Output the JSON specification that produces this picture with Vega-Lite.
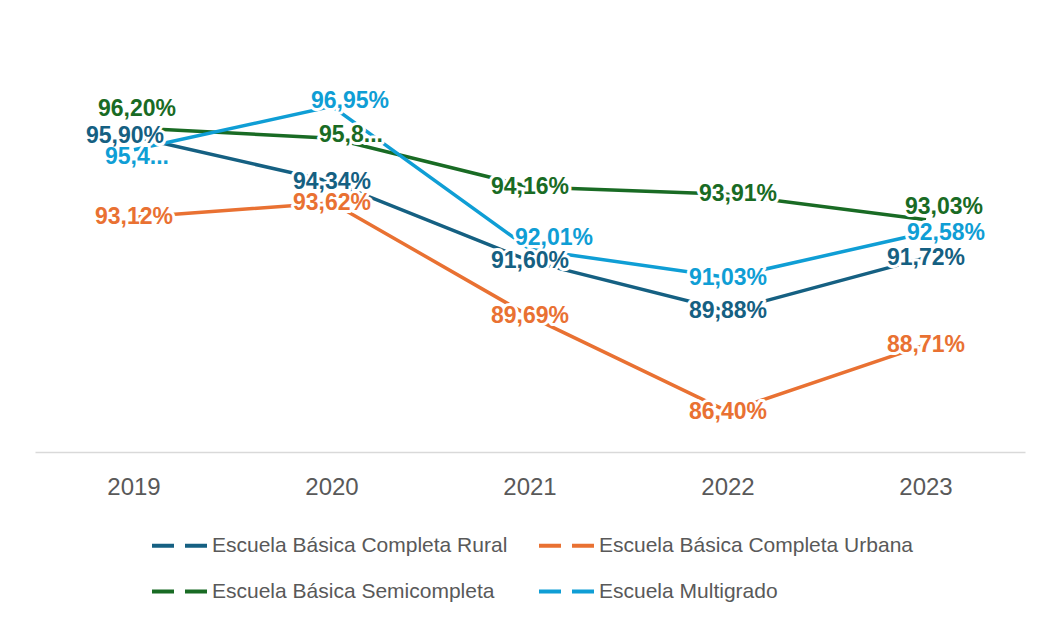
{
  "$schema": "https://vega.github.io/schema/vega-lite/v6.json",
  "width": 990,
  "height": 376,
  "padding": {"left": 35, "top": 76, "right": 16, "bottom": 10},
  "background": "white",
  "config": {
    "view": {"stroke": null},
    "font": "Liberation Sans"
  },
  "data": {
    "values": [
      {"year": "2019", "serie": "Escuela Básica Completa Rural", "value": 95.90, "label": "95,90%"},
      {"year": "2020", "serie": "Escuela Básica Completa Rural", "value": 94.34, "label": "94,34%"},
      {"year": "2021", "serie": "Escuela Básica Completa Rural", "value": 91.60, "label": "91,60%"},
      {"year": "2022", "serie": "Escuela Básica Completa Rural", "value": 89.88, "label": "89,88%"},
      {"year": "2023", "serie": "Escuela Básica Completa Rural", "value": 91.72, "label": "91,72%"},
      {"year": "2019", "serie": "Escuela Básica Completa Urbana", "value": 93.12, "label": "93,12%"},
      {"year": "2020", "serie": "Escuela Básica Completa Urbana", "value": 93.62, "label": "93,62%"},
      {"year": "2021", "serie": "Escuela Básica Completa Urbana", "value": 89.69, "label": "89,69%"},
      {"year": "2022", "serie": "Escuela Básica Completa Urbana", "value": 86.40, "label": "86,40%"},
      {"year": "2023", "serie": "Escuela Básica Completa Urbana", "value": 88.71, "label": "88,71%"},
      {"year": "2019", "serie": "Escuela Básica Semicompleta", "value": 96.20, "label": "96,20%"},
      {"year": "2020", "serie": "Escuela Básica Semicompleta", "value": 95.85, "label": "95,8..."},
      {"year": "2021", "serie": "Escuela Básica Semicompleta", "value": 94.16, "label": "94,16%"},
      {"year": "2022", "serie": "Escuela Básica Semicompleta", "value": 93.91, "label": "93,91%"},
      {"year": "2023", "serie": "Escuela Básica Semicompleta", "value": 93.03, "label": "93,03%"},
      {"year": "2019", "serie": "Escuela Multigrado", "value": 95.45, "label": "95,4..."},
      {"year": "2020", "serie": "Escuela Multigrado", "value": 96.95, "label": "96,95%"},
      {"year": "2021", "serie": "Escuela Multigrado", "value": 92.01, "label": "92,01%"},
      {"year": "2022", "serie": "Escuela Multigrado", "value": 91.03, "label": "91,03%"},
      {"year": "2023", "serie": "Escuela Multigrado", "value": 92.58, "label": "92,58%"}
    ]
  },
  "encoding": {
    "x": {
      "field": "year", "type": "nominal",
      "scale": {"type": "band", "paddingInner": 0, "paddingOuter": 0},
      "axis": {
        "title": null, "labelAngle": 0, "ticks": false,
        "domainColor": "#d9d9d9", "domainWidth": 1.5,
        "labelFontSize": 24, "labelColor": "#595959", "labelPadding": 23,
        "labelFont": "Liberation Sans"
      }
    },
    "y": {
      "field": "value", "type": "quantitative",
      "scale": {"domain": [85, 98], "zero": false, "nice": false},
      "axis": null
    },
    "color": {
      "field": "serie", "type": "nominal",
      "scale": {
        "domain": ["Escuela Básica Completa Rural", "Escuela Básica Completa Urbana", "Escuela Básica Semicompleta", "Escuela Multigrado"],
        "range": ["#156082", "#E97132", "#196B24", "#0F9ED5"]
      },
      "legend": {
        "title": null, "orient": "none", "legendX": 115, "legendY": 440,
        "direction": "horizontal",
        "columns": 2, "columnPadding": 23, "rowPadding": 6,
        "symbolType": "stroke", "symbolSize": 3025, "symbolStrokeWidth": 4,
        "symbolDash": [22, 11], "labelFontSize": 21, "labelColor": "#595959",
        "labelOffset": 3, "labelLimit": 500, "labelFont": "Liberation Sans"
      }
    },
    "text": {"field": "label"}
  },
  "layer": [
    {"mark": {"type": "line", "strokeWidth": 3.5}, "encoding": {"text": null}},

    {"transform": [{"filter": "!((datum.serie == 'Escuela Básica Semicompleta' && (datum.year == '2019' || datum.year == '2020' || datum.year == '2022' || datum.year == '2023')) || (datum.serie == 'Escuela Multigrado' && datum.year != '2022') || (datum.serie == 'Escuela Básica Completa Rural' && datum.year == '2019'))"}],
     "mark": {"type": "text", "fontSize": 23, "fontWeight": "bold", "stroke": "white", "strokeWidth": 6, "strokeJoin": "round", "fill": "white"}},
    {"transform": [{"filter": "datum.serie == 'Escuela Básica Completa Rural' && datum.year == '2019'"}],
     "mark": {"type": "text", "fontSize": 23, "fontWeight": "bold", "dx": -9, "dy": -1, "stroke": "white", "strokeWidth": 6, "strokeJoin": "round", "fill": "white"}},
    {"transform": [{"filter": "datum.serie == 'Escuela Básica Semicompleta' && datum.year == '2019'"}],
     "mark": {"type": "text", "fontSize": 23, "fontWeight": "bold", "dx": 3, "dy": -19, "stroke": "white", "strokeWidth": 6, "strokeJoin": "round", "fill": "white"}},
    {"transform": [{"filter": "datum.serie == 'Escuela Multigrado' && datum.year == '2019'"}],
     "mark": {"type": "text", "fontSize": 23, "fontWeight": "bold", "dx": 3, "dy": 7, "stroke": "white", "strokeWidth": 6, "strokeJoin": "round", "fill": "white"}},
    {"transform": [{"filter": "datum.serie == 'Escuela Básica Semicompleta' && datum.year == '2020'"}],
     "mark": {"type": "text", "fontSize": 23, "fontWeight": "bold", "dx": 19, "dy": -3, "stroke": "white", "strokeWidth": 6, "strokeJoin": "round", "fill": "white"}},
    {"transform": [{"filter": "datum.serie == 'Escuela Multigrado' && datum.year == '2020'"}],
     "mark": {"type": "text", "fontSize": 23, "fontWeight": "bold", "dx": 18, "dy": -5, "stroke": "white", "strokeWidth": 6, "strokeJoin": "round", "fill": "white"}},
    {"transform": [{"filter": "datum.serie == 'Escuela Multigrado' && datum.year == '2021'"}],
     "mark": {"type": "text", "fontSize": 23, "fontWeight": "bold", "dx": 24, "dy": -11, "stroke": "white", "strokeWidth": 6, "strokeJoin": "round", "fill": "white"}},
    {"transform": [{"filter": "datum.serie == 'Escuela Básica Semicompleta' && datum.year == '2022'"}],
     "mark": {"type": "text", "fontSize": 23, "fontWeight": "bold", "dx": 10, "dy": 0, "stroke": "white", "strokeWidth": 6, "strokeJoin": "round", "fill": "white"}},
    {"transform": [{"filter": "datum.serie == 'Escuela Básica Semicompleta' && datum.year == '2023'"}],
     "mark": {"type": "text", "fontSize": 23, "fontWeight": "bold", "dx": 18, "dy": -13, "stroke": "white", "strokeWidth": 6, "strokeJoin": "round", "fill": "white"}},
    {"transform": [{"filter": "datum.serie == 'Escuela Multigrado' && datum.year == '2023'"}],
     "mark": {"type": "text", "fontSize": 23, "fontWeight": "bold", "dx": 20, "dy": 0, "stroke": "white", "strokeWidth": 6, "strokeJoin": "round", "fill": "white"}},

    {"transform": [{"filter": "!((datum.serie == 'Escuela Básica Semicompleta' && (datum.year == '2019' || datum.year == '2020' || datum.year == '2022' || datum.year == '2023')) || (datum.serie == 'Escuela Multigrado' && datum.year != '2022') || (datum.serie == 'Escuela Básica Completa Rural' && datum.year == '2019'))"}],
     "mark": {"type": "text", "fontSize": 23, "fontWeight": "bold"}},
    {"transform": [{"filter": "datum.serie == 'Escuela Básica Completa Rural' && datum.year == '2019'"}],
     "mark": {"type": "text", "fontSize": 23, "fontWeight": "bold", "dx": -9, "dy": -1}},
    {"transform": [{"filter": "datum.serie == 'Escuela Básica Semicompleta' && datum.year == '2019'"}],
     "mark": {"type": "text", "fontSize": 23, "fontWeight": "bold", "dx": 3, "dy": -19}},
    {"transform": [{"filter": "datum.serie == 'Escuela Multigrado' && datum.year == '2019'"}],
     "mark": {"type": "text", "fontSize": 23, "fontWeight": "bold", "dx": 3, "dy": 7}},
    {"transform": [{"filter": "datum.serie == 'Escuela Básica Semicompleta' && datum.year == '2020'"}],
     "mark": {"type": "text", "fontSize": 23, "fontWeight": "bold", "dx": 19, "dy": -3}},
    {"transform": [{"filter": "datum.serie == 'Escuela Multigrado' && datum.year == '2020'"}],
     "mark": {"type": "text", "fontSize": 23, "fontWeight": "bold", "dx": 18, "dy": -5}},
    {"transform": [{"filter": "datum.serie == 'Escuela Multigrado' && datum.year == '2021'"}],
     "mark": {"type": "text", "fontSize": 23, "fontWeight": "bold", "dx": 24, "dy": -11}},
    {"transform": [{"filter": "datum.serie == 'Escuela Básica Semicompleta' && datum.year == '2022'"}],
     "mark": {"type": "text", "fontSize": 23, "fontWeight": "bold", "dx": 10, "dy": 0}},
    {"transform": [{"filter": "datum.serie == 'Escuela Básica Semicompleta' && datum.year == '2023'"}],
     "mark": {"type": "text", "fontSize": 23, "fontWeight": "bold", "dx": 18, "dy": -13}},
    {"transform": [{"filter": "datum.serie == 'Escuela Multigrado' && datum.year == '2023'"}],
     "mark": {"type": "text", "fontSize": 23, "fontWeight": "bold", "dx": 20, "dy": 0}}
  ]
}
